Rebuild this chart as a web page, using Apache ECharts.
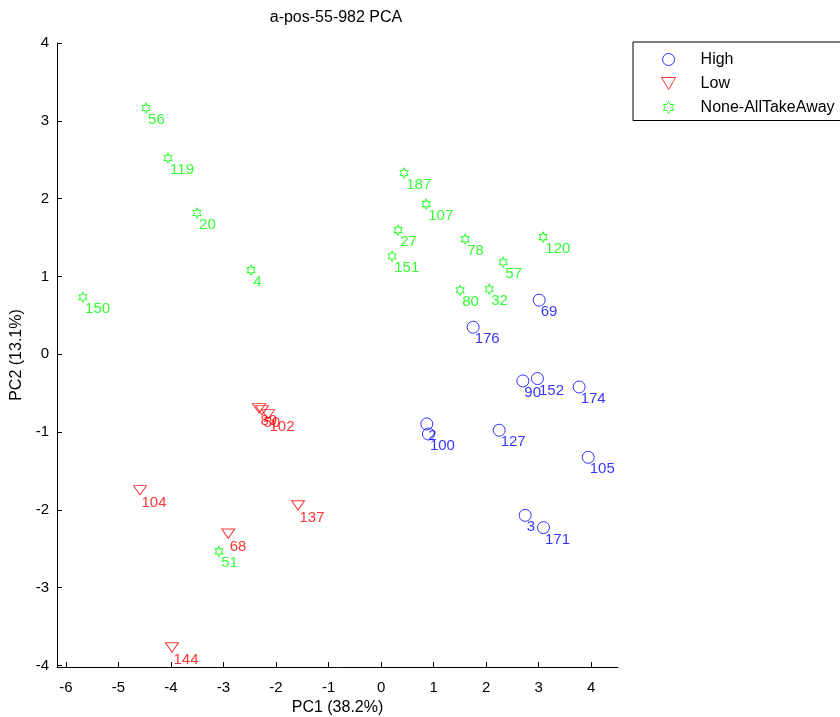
<!DOCTYPE html>
<html>
<head>
<meta charset="utf-8">
<script src="https://cdn.jsdelivr.net/npm/echarts@6/dist/echarts.min.js"></script>
<style>
  html, body { margin: 0; padding: 0; background: #fff; }
  #chart { width: 840px; height: 717px; }
</style>
</head>
<body>
<div id="chart"></div>
<script>
// PCA scores, grouped by class
const highNames = ['69', '176', '90', '152', '174', '2', '100', '127', '105', '3', '171'];
const highPC1 = [3.010, 1.752, 2.699, 2.977, 3.771, 0.870, 0.901, 2.248, 3.943, 2.743, 3.091];
const highPC2 = [0.695, 0.347, -0.343, -0.313, -0.421, -0.896, -1.025, -0.977, -1.325, -2.071, -2.229];

const lowNames = ['89', '50', '102', '104', '137', '68', '144'];
const lowPC1 = [-2.324, -2.267, -2.152, -4.590, -1.581, -2.909, -3.981];
const lowPC2 = [-0.695, -0.720, -0.772, -1.749, -1.942, -2.306, -3.769];

const noneNames = ['56', '119', '20', '4', '150', '187', '107', '27', '151', '78', '57', '120', '80', '32', '51'];
const nonePC1 = [-4.476, -4.057, -3.505, -2.476, -5.676, 0.438, 0.857, 0.324, 0.210, 1.600, 2.324, 3.086, 1.505, 2.057, -3.086];
const nonePC2 = [3.164, 2.521, 1.814, 1.081, 0.733, 2.328, 1.929, 1.595, 1.260, 1.479, 1.183, 1.505, 0.823, 0.836, -2.534];

const groupNames = ['High', 'Low', 'None-AllTakeAway'];
const xTicks = [-6, -5, -4, -3, -2, -1, 0, 1, 2, 3, 4];
const yTicks = [-4, -3, -2, -1, 0, 1, 2, 3, 4];

const FONT = 'Liberation Sans, Arial, Helvetica, sans-serif';

// six-pointed star outline
function hexagramPath() {
  const parts = [];
  for (let k = 0; k < 12; k++) {
    const a = (90 + 30 * k) * Math.PI / 180;
    const r = k % 2 === 0 ? 1 : 1 / Math.sqrt(3);
    const x = (r * Math.cos(a)).toFixed(4);
    const y = (-r * Math.sin(a)).toFixed(4);
    parts.push((k === 0 ? 'M' : 'L') + x + ' ' + y);
  }
  return 'path://' + parts.join(' ') + ' Z';
}
const triangleDown = 'path://M0 0 L13 0 L6.5 11 Z';

function points(names, xs, ys) {
  return names.map((n, i) => ({ name: n, value: [xs[i], ys[i]] }));
}

// labels sit just right of and below each marker
function scatterSeries(name, data, color, symbol, size) {
  const w = Array.isArray(size) ? size[0] : size;
  const h = Array.isArray(size) ? size[1] : size;
  return {
    name: name,
    type: 'scatter',
    data: data,
    symbol: symbol,
    symbolSize: size,
    symbolKeepAspect: true,
    itemStyle: { color: 'rgba(0,0,0,0)', borderColor: color, borderWidth: 1 },
    emphasis: { disabled: true },
    label: {
      show: true,
      position: [w / 2 + 2, h / 2 + 12.5],
      align: 'left',
      verticalAlign: 'middle',
      formatter: p => p.name,
      color: color,
      fontSize: 15,
      fontFamily: FONT
    },
    clip: false
  };
}

const chart = echarts.init(document.getElementById('chart'), null, { renderer: 'canvas' });

chart.setOption({
  animation: false,
  backgroundColor: '#ffffff',
  textStyle: { fontFamily: FONT },
  title: {
    text: 'a-pos-55-982 PCA',
    left: 331,
    textAlign: 'center',
    top: 5,
    textStyle: { fontSize: 16, fontWeight: 'normal', color: '#000', fontFamily: FONT }
  },
  legend: {
    data: groupNames,
    orient: 'vertical',
    left: 633,
    top: 42,
    padding: [9.5, 40, 5, 28],
    itemWidth: 54,
    itemHeight: 12,
    itemGap: 8,
    borderColor: '#000',
    borderWidth: 1,
    backgroundColor: '#fff',
    selectedMode: false,
    itemStyle: { borderWidth: 1 },
    textStyle: { fontSize: 16, color: '#000', lineHeight: 16, fontFamily: FONT }
  },
  grid: { left: 57, right: 222, top: 43, bottom: 50, outerBoundsMode: 'none' },
  xAxis: {
    type: 'value',
    min: -6.17,
    max: 4.51,
    name: 'PC1 (38.2%)',
    nameLocation: 'middle',
    nameGap: 25,
    nameTextStyle: { fontSize: 16, color: '#000', fontFamily: FONT },
    axisLine: { show: true, onZero: false, lineStyle: { color: '#000', width: 1 } },
    axisTick: { show: true, inside: true, length: 5, customValues: xTicks, lineStyle: { color: '#000' } },
    axisLabel: { customValues: xTicks, color: '#000', fontSize: 15, margin: 13, fontFamily: FONT },
    splitLine: { show: false }
  },
  yAxis: {
    type: 'value',
    min: -4.02,
    max: 4,
    name: 'PC2 (13.1%)',
    nameLocation: 'middle',
    nameGap: 26,
    nameRotate: 90,
    nameTextStyle: { fontSize: 16, color: '#000', fontFamily: FONT },
    axisLine: { show: true, onZero: false, lineStyle: { color: '#000', width: 1 } },
    axisTick: { show: true, inside: true, length: 5, customValues: yTicks, lineStyle: { color: '#000' } },
    axisLabel: { customValues: yTicks, color: '#000', fontSize: 15, margin: 8, fontFamily: FONT },
    splitLine: { show: false }
  },
  series: [
    scatterSeries(groupNames[0], points(highNames, highPC1, highPC2), '#0000ff', 'circle', 12),
    scatterSeries(groupNames[1], points(lowNames, lowPC1, lowPC2), '#ff0000', triangleDown, [13, 11]),
    scatterSeries(groupNames[2], points(noneNames, nonePC1, nonePC2), '#00ff00', hexagramPath(), [9, 10])
  ]
});
</script>
</body>
</html>
